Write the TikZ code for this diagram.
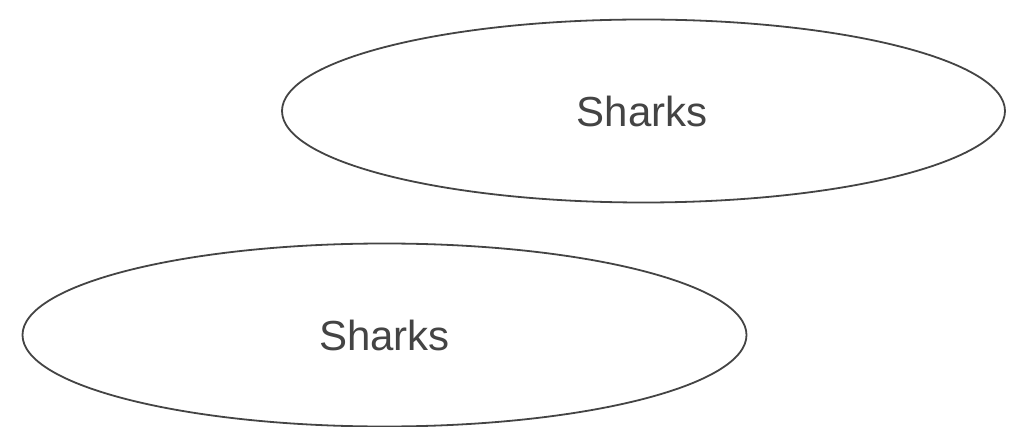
\documentclass[tikz,border=0pt]{standalone}
\usepackage{fontspec}
\setmainfont{Liberation Sans}
\usetikzlibrary{shapes.geometric}
\definecolor{ink}{HTML}{444444}
\tikzset{
  oval/.style={draw=ink, line width=1.8pt, fill=white},
  lbl/.style={text=ink, inner sep=0pt, font=\fontsize{42}{50}\selectfont}
}
\begin{document}
\begin{tikzpicture}[x=1pt,y=-1pt]
\useasboundingbox (0,0) rectangle (1016,427);
\draw[oval] (643.5,111) ellipse [x radius=361.5, y radius=91.5];
\node[lbl] (t1) at (642,111) {Sharks};
\draw[oval] (384.5,335) ellipse [x radius=362, y radius=91.5];
\node[lbl] (t2) at (384.5,335) {Sharks};
\end{tikzpicture}
\end{document}
